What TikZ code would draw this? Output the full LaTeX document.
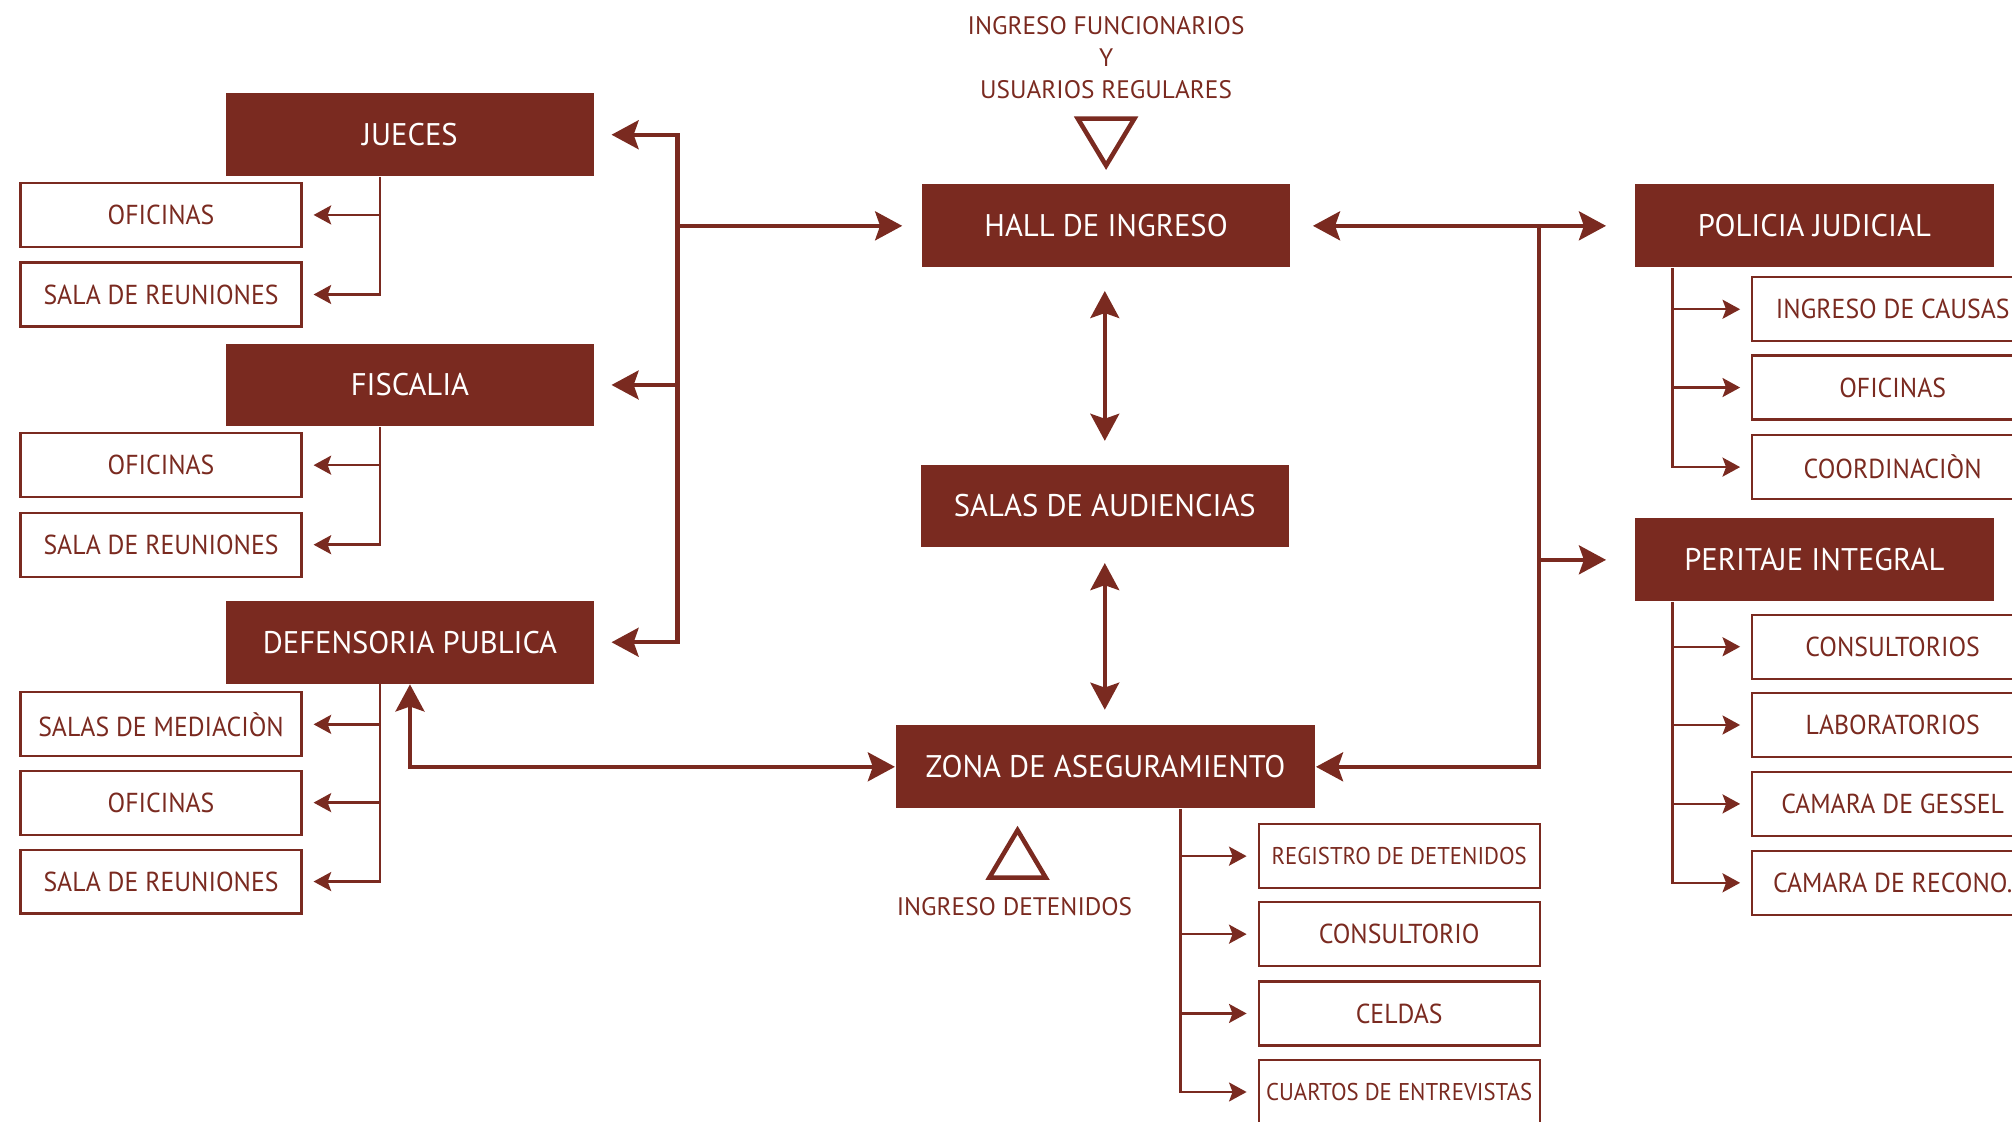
\documentclass[tikz,border=0pt]{standalone}
\usepackage{fontspec}
\setmainfont{PT Sans}
\newfontfamily\mainBoxFont{PT Sans}[FakeStretch=0.98]
\newfontfamily\subBoxFont{PT Sans}[FakeStretch=0.94]
\usetikzlibrary{calc,arrows.meta}
\definecolor{courtRed}{RGB}{122,42,32}
\tikzset{
  mainBox/.style={fill=courtRed,text=white,minimum width=3.683cm,minimum height=0.828cm,inner sep=0pt,font=\mainBoxFont\fontsize{8.9}{10}\selectfont},
  subBox/.style={draw=courtRed,line width=0.6pt,text=courtRed,minimum width=2.81cm,minimum height=0.64cm,inner sep=0pt,font=\subBoxFont\fontsize{7.8}{9}\selectfont},
  labelText/.style={text=courtRed,align=center,inner sep=0pt,font=\fontsize{7.2}{9.1}\selectfont},
  bigTip/.tip={Stealth[length=7.7pt,width=8.2pt,inset=1.4pt]},
  smallTip/.tip={Stealth[length=5pt,width=5.4pt,inset=1pt]},
  mainLine/.style={draw=courtRed,line width=1.2pt},
  subArrow/.style={draw=courtRed,line width=0.7pt,-{smallTip},shorten >=0.11cm}
}
\begin{document}
\begin{tikzpicture}[x=0.012832cm,y=-0.012832cm]
\useasboundingbox (0,0) rectangle (1568,874);
\clip (0,0) rectangle (1568,874);

% left column
\node[mainBox] (jueces) at (319.5,105) {JUECES};
\node[subBox] (juecesOficinas) at (125.5,167.5) {OFICINAS};
\node[subBox] (juecesSala) at (125.5,229.5) {SALA DE REUNIONES};
\node[mainBox] (fiscalia) at (319.5,300) {FISCALIA};
\node[subBox] (fiscaliaOficinas) at (125.5,362.5) {OFICINAS};
\node[subBox] (fiscaliaSala) at (125.5,424.5) {SALA DE REUNIONES};
\node[mainBox] (defensoria) at (319.5,500.5) {DEFENSORIA PUBLICA};
\node[subBox] (defensoriaMediacion) at (125.5,564.5) {SALAS DE MEDIACIÒN};
\node[subBox] (defensoriaOficinas) at (125.5,625.5) {OFICINAS};
\node[subBox] (defensoriaSala) at (125.5,687) {SALA DE REUNIONES};

% center column
\node[labelText] (funcionarios) at (862,45) {INGRESO FUNCIONARIOS\\Y\\USUARIOS REGULARES};
\node[mainBox] (hall) at (862,176) {HALL DE INGRESO};
\node[mainBox] (salas) at (861,394.3) {SALAS DE AUDIENCIAS};
\node[mainBox,minimum width=4.196cm] (zona) at (861.5,597.6) {ZONA DE ASEGURAMIENTO};
\node[labelText] (detenidos) at (790.6,706.6) {INGRESO DETENIDOS};
\node[subBox,font=\subBoxFont\fontsize{6.9}{8}\selectfont] (registro) at (1090.4,667.2) {REGISTRO DE DETENIDOS};
\node[subBox] (consultorio) at (1090.4,728) {CONSULTORIO};
\node[subBox] (celdas) at (1090.4,789.8) {CELDAS};
\node[subBox,font=\subBoxFont\fontsize{6.9}{8}\selectfont] (entrevistas) at (1090.4,851) {CUARTOS DE ENTREVISTAS};

% right column
\node[mainBox,minimum width=3.593cm] (policia) at (1414,176) {POLICIA JUDICIAL};
\node[subBox] (causas) at (1475,241) {INGRESO DE CAUSAS};
\node[subBox] (policiaOficinas) at (1475,302) {OFICINAS};
\node[subBox] (coordinacion) at (1475,364) {COORDINACIÒN};
\node[mainBox,minimum width=3.593cm] (peritaje) at (1414,436.3) {PERITAJE INTEGRAL};
\node[subBox] (consultorios) at (1475,504) {CONSULTORIOS};
\node[subBox] (laboratorios) at (1475,565) {LABORATORIOS};
\node[subBox] (gessel) at (1475,626.5) {CAMARA DE GESSEL};
\node[subBox] (reconocimiento) at (1475,688) {CAMARA DE RECONO.};

% entrance marks
\draw[courtRed,line width=1.3pt] (840,92.5) -- (884,92.5) -- (862,129) -- cycle;
\draw[courtRed,line width=1.3pt] (771,684) -- (815,684) -- (793,647) -- cycle;

% main connectors
\coordinate (trunkLeft) at (528,176);
\coordinate (trunkRight) at (1199.5,176);
\draw[mainLine,{bigTip}-{bigTip},shorten <=0.167cm,shorten >=0.167cm] (jueces.east) -| (trunkLeft) |- (defensoria.east);
\draw[mainLine,-{bigTip},shorten >=0.167cm] (trunkLeft |- fiscalia.east) -- (fiscalia.east);
\draw[mainLine,-{bigTip},shorten >=0.19cm] (trunkLeft) -- (hall.west);
\draw[mainLine,{bigTip}-{bigTip},shorten <=0.22cm,shorten >=0.28cm] (hall.east) -- (policia.west);
\draw[mainLine,-{bigTip}] (trunkRight) |- (zona.east);
\draw[mainLine,-{bigTip},shorten >=0.28cm] (trunkRight |- peritaje.west) -- (peritaje.west);
\draw[mainLine,{bigTip}-{bigTip}] (defensoria.south) |- (zona.west);
\draw[mainLine,line width=1.1pt,{bigTip}-{bigTip},shorten <=0.23cm,shorten >=0.23cm] (salas.north |- hall.south) -- (salas.north);
\draw[mainLine,line width=1.1pt,{bigTip}-{bigTip},shorten <=0.15cm,shorten >=0.15cm] (salas.south) -- (salas.south |- zona.north);

% sub connectors
\coordinate (juecesFork) at ([xshift=-0.3cm]jueces.south);
\coordinate (fiscaliaFork) at ([xshift=-0.3cm]fiscalia.south);
\coordinate (defensoriaFork) at ([xshift=-0.3cm]defensoria.south);
\coordinate (policiaFork) at ([xshift=0.385cm]policia.south west);
\coordinate (peritajeFork) at ([xshift=0.385cm]peritaje.south west);
\coordinate (zonaFork) at ([xshift=0.75cm]zona.south);
\draw[subArrow] (juecesFork) |- (juecesSala.east);
\draw[subArrow] (juecesFork |- juecesOficinas.east) -- (juecesOficinas.east);
\draw[subArrow] (fiscaliaFork) |- (fiscaliaSala.east);
\draw[subArrow] (fiscaliaFork |- fiscaliaOficinas.east) -- (fiscaliaOficinas.east);
\draw[subArrow] (defensoriaFork) |- (defensoriaSala.east);
\foreach \sub in {defensoriaMediacion,defensoriaOficinas}
  \draw[subArrow] (defensoriaFork |- \sub.east) -- (\sub.east);
\draw[subArrow] (policiaFork) |- (coordinacion.west);
\foreach \sub in {causas,policiaOficinas}
  \draw[subArrow] (policiaFork |- \sub.west) -- (\sub.west);
\draw[subArrow] (peritajeFork) |- (reconocimiento.west);
\foreach \sub in {consultorios,laboratorios,gessel}
  \draw[subArrow] (peritajeFork |- \sub.west) -- (\sub.west);
\draw[subArrow] (zonaFork) |- (entrevistas.west);
\foreach \sub in {registro,consultorio,celdas}
  \draw[subArrow] (zonaFork |- \sub.west) -- (\sub.west);
\end{tikzpicture}
\end{document}
